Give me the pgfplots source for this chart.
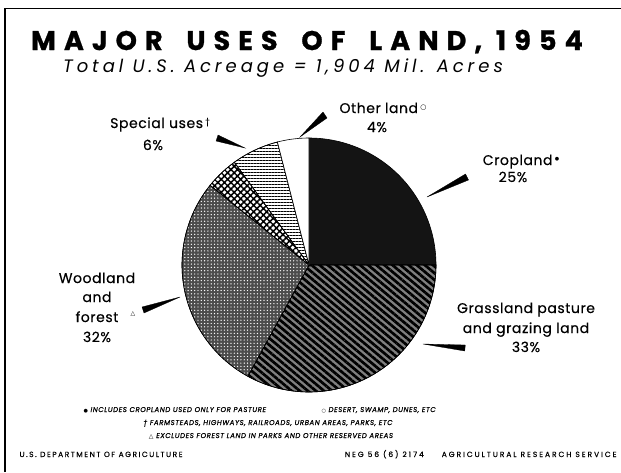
\documentclass[border=0pt]{standalone}
\usepackage{pgfplots}
\pgfplotsset{compat=1.18}
\usetikzlibrary{patterns.meta}
\usepackage{fontspec}
\setmainfont{Poppins}
\newfontfamily\sym{DejaVu Sans}
\newcommand{\lab}{\fontsize{14}{17}\selectfont\addfontfeature{LetterSpace=4,FakeBold=0.4}}
\newcommand{\foot}{\fontsize{7}{8}\selectfont\itshape\addfontfeature{LetterSpace=8,FakeBold=0.6}}
% pie centre and radius (pixel units), shares in percent
\def\cx{309}\def\cy{265}\def\R{127}
\begin{document}
\begin{tikzpicture}
\begin{axis}[scale only axis, width=621pt, height=472pt,
  xmin=0, xmax=621, ymin=0, ymax=472, y dir=reverse,
  hide axis, clip=false]
% frame
\draw[line width=1.2pt] (axis cs:5,472) -- (axis cs:5,8.5) -- (axis cs:621,8.5);
% Cropland 25%
\addplot[draw=black, line width=0.6pt, fill=black!92, domain=0:25, samples=60, variable=\t]
  ({\cx+\R*cos(90-3.6*\t)}, {\cy-\R*sin(90-3.6*\t)}) -- (axis cs:\cx,\cy) -- cycle;
% Grassland 33%
\addplot[draw=black, line width=0.6pt, preaction={fill=black!50}, pattern={Lines[angle=-40,distance=5.2pt,line width=2.7pt]}, pattern color=black, domain=25:58, samples=80, variable=\t]
  ({\cx+\R*cos(90-3.6*\t)}, {\cy-\R*sin(90-3.6*\t)}) -- (axis cs:\cx,\cy) -- cycle;
% Woodland 32% (dotted part + checked part)
\addplot[draw=black, line width=0.6pt, preaction={fill=black!70}, pattern={Dots[distance=3.3pt,radius=0.7pt]}, pattern color=white, domain=58:85.8, samples=80, variable=\t]
  ({\cx+\R*cos(90-3.6*\t)}, {\cy-\R*sin(90-3.6*\t)}) -- (axis cs:\cx,\cy) -- cycle;
\addplot[draw=black, line width=0.6pt, preaction={fill=white}, pattern={Hatch[angle=45,distance=4.6pt,line width=1.5pt]}, pattern color=black, domain=85.8:90, samples=20, variable=\t]
  ({\cx+\R*cos(90-3.6*\t)}, {\cy-\R*sin(90-3.6*\t)}) -- (axis cs:\cx,\cy) -- cycle;
% Special uses 6%
\addplot[draw=black, line width=0.6pt, preaction={fill=white}, pattern={Lines[angle=0,distance=3pt,line width=0.8pt]}, pattern color=black, domain=90:96, samples=20, variable=\t]
  ({\cx+\R*cos(90-3.6*\t)}, {\cy-\R*sin(90-3.6*\t)}) -- (axis cs:\cx,\cy) -- cycle;
% Other land 4%
\addplot[draw=black, line width=0.6pt, fill=white, domain=96:100, samples=20, variable=\t]
  ({\cx+\R*cos(90-3.6*\t)}, {\cy-\R*sin(90-3.6*\t)}) -- (axis cs:\cx,\cy) -- cycle;
% pointer wedges
\addplot[fill=black, draw=black, line width=0.3pt] coordinates {(327,118) (323,112) (300,137)} -- cycle;
\addplot[fill=black, draw=black, line width=0.3pt] coordinates {(216,141) (218,135) (245,148)} -- cycle;
\addplot[fill=black, draw=black, line width=0.3pt] coordinates {(468.5,180) (465.5,174) (427,197)} -- cycle;
\addplot[fill=black, draw=black, line width=0.3pt] coordinates {(144,313) (142,307) (180,297)} -- cycle;
\addplot[fill=black, draw=black, line width=0.3pt] coordinates {(465.3,345) (464.7,351) (423,344)} -- cycle;
% titles
\node[anchor=base] at (axis cs:307,50) {\fontsize{27}{30}\selectfont\bfseries\addfontfeature{LetterSpace=30,FakeBold=1}MAJOR\hspace{10pt} USES\hspace{10pt} OF\hspace{10pt} LAND, 1954};
\node[anchor=base] at (axis cs:283,72) {\fontsize{18}{20}\selectfont\itshape\addfontfeature{LetterSpace=22}Total U.S. Acreage = 1,904 Mil. Acres};
% labels
\node[anchor=base] at (axis cs:383,113) {\lab Other land\,\raisebox{0.5ex}{\fontsize{7}{8}\selectfont\sym ○}};
\node[anchor=base] at (axis cs:377,132) {\lab 4\%};
\node[anchor=base] at (axis cs:160,128) {\lab Special uses\,\raisebox{0.5ex}{\fontsize{8}{8}\selectfont †}};
\node[anchor=base] at (axis cs:153,150) {\lab 6\%};
\node[anchor=base] at (axis cs:521,165) {\lab Cropland\,\raisebox{0.6ex}{\fontsize{5}{8}\selectfont\sym ●}};
\node[anchor=base] at (axis cs:513,182) {\lab 25\%};
\node[anchor=base] at (axis cs:97,283) {\lab Woodland};
\node[anchor=base] at (axis cs:97,302) {\lab and};
\node[anchor=base] at (axis cs:97,322) {\lab forest};
\node[anchor=base] at (axis cs:97,342) {\lab 32\%};
\node[anchor=base] at (axis cs:133,315) {\fontsize{6}{8}\selectfont\sym △};
\node[anchor=base] at (axis cs:526,313) {\lab Grassland pasture};
\node[anchor=base] at (axis cs:526,333) {\lab and grazing land};
\node[anchor=base] at (axis cs:526,352) {\lab 33\%};
% footnotes
\node[anchor=base west] at (axis cs:80,412) {\foot{\sym\fontsize{5}{8}\selectfont ●}\ INCLUDES CROPLAND USED ONLY FOR PASTURE};
\node[anchor=base west] at (axis cs:318,412) {\foot{\sym\fontsize{5}{8}\selectfont ○}\ DESERT, SWAMP, DUNES, ETC};
\node[anchor=base] at (axis cs:268,425) {\foot † FARMSTEADS, HIGHWAYS, RAILROADS, URBAN AREAS, PARKS, ETC};
\node[anchor=base] at (axis cs:271,438) {\foot{\sym\fontsize{6}{8}\selectfont △}\ EXCLUDES FOREST LAND IN PARKS AND OTHER RESERVED AREAS};
\node[anchor=base west] at (axis cs:16,457) {\fontsize{7.5}{8}\selectfont\addfontfeature{LetterSpace=20,FakeBold=0.5}U.S. DEPARTMENT OF AGRICULTURE};
\node[anchor=base east] at (axis cs:620,457) {\fontsize{7.5}{8}\selectfont\addfontfeature{LetterSpace=26,FakeBold=0.5}NEG 56 (6) 2174\hspace{14pt} AGRICULTURAL RESEARCH SERVICE};
\end{axis}
\pgfresetboundingbox
\useasboundingbox (current axis.south west) rectangle (current axis.north east);
\end{tikzpicture}
\end{document}
